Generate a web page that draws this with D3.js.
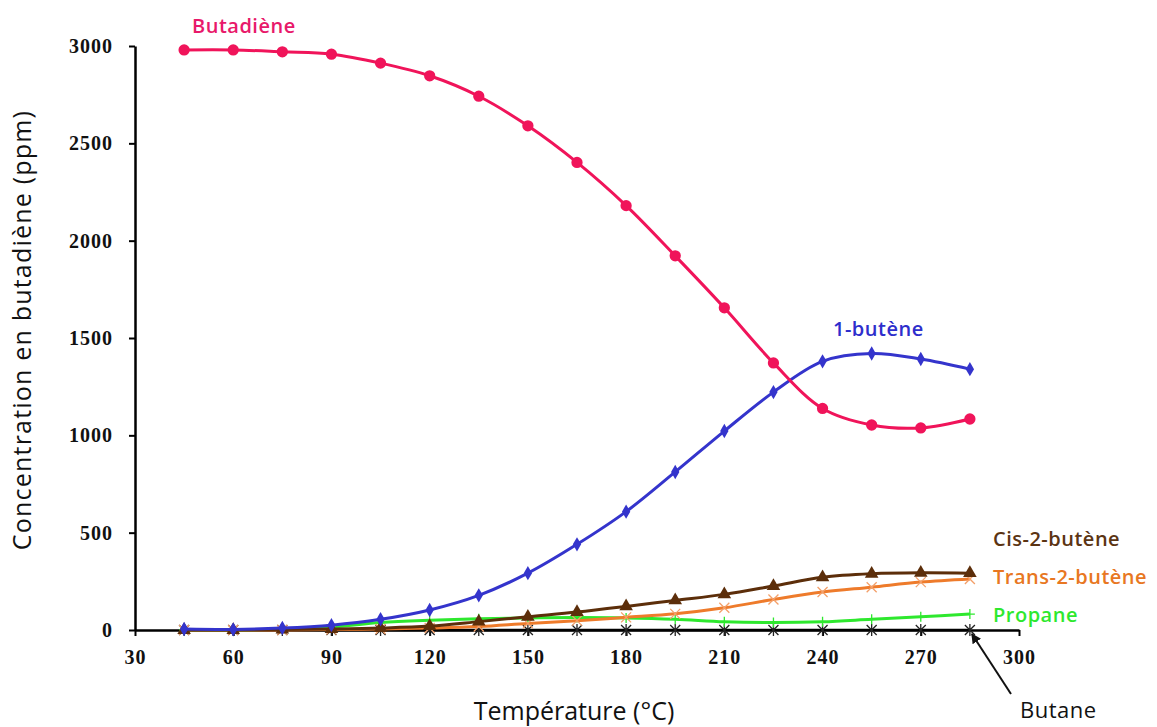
<!DOCTYPE html>
<html>
<head>
<meta charset="utf-8">
<script src="https://cdn.jsdelivr.net/npm/d3@7"></script>
<style>
  html, body { margin: 0; padding: 0; background: #fff; }
  svg { display: block; }
</style>
</head>
<body>
<svg id="chart" width="1157" height="727"></svg>
<script>
// ---- data ----
const temperatures = [45, 60, 75, 90, 105, 120, 135, 150, 165, 180, 195, 210, 225, 240, 255, 270, 285];
const butadiene   = [2980, 2980, 2970, 2958, 2912, 2847, 2742, 2590, 2402, 2180, 1922, 1655, 1372, 1138, 1053, 1038, 1084];
const butene1     = [5, 3, 10, 25, 55, 103, 178, 292, 440, 608, 812, 1022, 1222, 1380, 1420, 1392, 1340];
const cis2butene  = [0, 0, 2, 5, 10, 20, 43, 68, 92, 121, 152, 183, 226, 271, 289, 294, 292];
const trans2butene= [0, 0, 0, 2, 5, 10, 18, 34, 48, 65, 83, 114, 157, 195, 220, 246, 262];
const propane     = [0, 0, 5, 15, 38, 50, 58, 62, 64, 62, 55, 42, 38, 42, 55, 68, 82];
const butane      = [0, 0, 0, 0, 0, 0, 0, 0, 0, 0, 0, 0, 0, 0, 0, 0, 0];
const xTicks = [30, 60, 90, 120, 150, 180, 210, 240, 270, 300];
const yTicks = [0, 500, 1000, 1500, 2000, 2500, 3000];

const svg = d3.select("#chart");
const x = d3.scaleLinear().domain([30, 300]).range([135, 1019]);
const y = d3.scaleLinear().domain([0, 3000]).range([630, 46]);

// ---- axes ----
const fmt = d3.format("d");
const xAxis = svg.append("g").attr("transform", `translate(0,${y(0)})`)
  .call(d3.axisBottom(x).tickValues(xTicks).tickFormat(fmt).tickSize(6).tickSizeOuter(0).tickPadding(14));
const yAxis = svg.append("g").attr("transform", `translate(${x(30)},0)`)
  .call(d3.axisLeft(y).tickValues(yTicks).tickFormat(fmt).tickSize(6).tickSizeOuter(0).tickPadding(16));
[xAxis, yAxis].forEach(a => {
  a.select(".domain").attr("stroke", "#000").attr("stroke-width", 2.5);
  a.selectAll(".tick line").attr("stroke", "#000").attr("stroke-width", 2);
  a.selectAll(".tick text").attr("fill", "#111")
    .style("font-family", "'Liberation Serif', 'Times New Roman', serif")
    .style("font-weight", "bold").style("font-size", "20px").style("letter-spacing", "1px");
});
xAxis.selectAll(".tick text").attr("dy", "0.71em");

// axis titles
svg.append("text").attr("x", 574).attr("y", 713).attr("text-anchor", "middle")
  .attr("dominant-baseline", "middle")
  .style("font-family", "'Open Sans', sans-serif").style("font-size", "25px").attr("fill", "#111")
  .text("Température (°C)");
svg.append("text").attr("transform", "translate(24,330) rotate(-90)").attr("text-anchor", "middle")
  .attr("dominant-baseline", "middle")
  .style("font-family", "'Open Sans', sans-serif").style("font-size", "25px").style("letter-spacing", "1.2px")
  .attr("fill", "#111")
  .text("Concentration en butadiène (ppm)");

// ---- series ----
const line = d3.line().x((d, i) => x(temperatures[i])).y(d => y(d)).curve(d3.curveCatmullRom.alpha(0.5));

function drawSeries(values, color, lw, marker) {
  const g = svg.append("g");
  g.append("path").datum(values).attr("d", line).attr("fill", "none")
    .attr("stroke", color).attr("stroke-width", lw).attr("stroke-linejoin", "round");
  const pts = g.selectAll("g.pt").data(values).join("g")
    .attr("transform", (d, i) => `translate(${x(temperatures[i])},${y(d)})`);
  marker(pts);
}

const sym = (type, size, fill) => sel => sel.append("path").attr("d", d3.symbol().type(type).size(size)()).attr("fill", fill);
const strokeMarker = (pathD, color, w) => sel => sel.append("path").attr("d", pathD)
  .attr("fill", "none").attr("stroke", color).attr("stroke-width", w);

const plusPath = "M-5,0L5,0M0,-5L0,5";
const xPath = "M-5,-5L5,5M-5,5L5,-5";
const starPath = "M-5,-5L5,5M-5,5L5,-5M0,-6L0,6";

drawSeries(butane, "#000", 2.5, strokeMarker(starPath, "#222", 1.3));
drawSeries(propane, "#2EE82E", 3, strokeMarker(plusPath, "#2EE82E", 1.3));
drawSeries(trans2butene, "#EE7B2B", 3, strokeMarker(xPath, "#F3A06A", 1.3));
drawSeries(cis2butene, "#5C2E0A", 3, sym(d3.symbolTriangle, 80, "#5C2E0A"));
drawSeries(butene1, "#3434CC", 3, sym(d3.symbolDiamond, 60, "#3434CC"));
drawSeries(butadiene, "#F0145A", 3, sym(d3.symbolCircle, 100, "#F0145A"));

// ---- labels ----
const lbl = (t, lx, ly, color, w, fs) => svg.append("text").attr("x", lx).attr("y", ly)
  .attr("fill", color).style("font-family", "'Open Sans', sans-serif")
  .style("font-weight", w || "600").style("font-size", (fs || 20) + "px").style("letter-spacing", "0.5px")
  .attr("dominant-baseline", "middle").text(t);
lbl("Butadiène", 192, 28, "#E8196A");
lbl("1-butène", 833, 331, "#2E2ECC");
lbl("Cis-2-butène", 993, 541, "#5B3413");
lbl("Trans-2-butène", 993, 579, "#E87722");
lbl("Propane", 993, 617, "#2EE82E");
lbl("Butane", 1020, 712, "#111", "500", 22);

// arrow to butane
svg.append("defs").append("marker").attr("id", "ah").attr("viewBox", "0 0 10 10")
  .attr("refX", 9).attr("refY", 5).attr("markerWidth", 5).attr("markerHeight", 5).attr("orient", "auto")
  .append("path").attr("d", "M0,0L10,5L0,10z").attr("fill", "#111");
svg.append("line").attr("x1", 1011).attr("y1", 694).attr("x2", x(285) + 2).attr("y2", y(0) + 4)
  .attr("stroke", "#111").attr("stroke-width", 2).attr("marker-end", "url(#ah)");
</script>
</body>
</html>
